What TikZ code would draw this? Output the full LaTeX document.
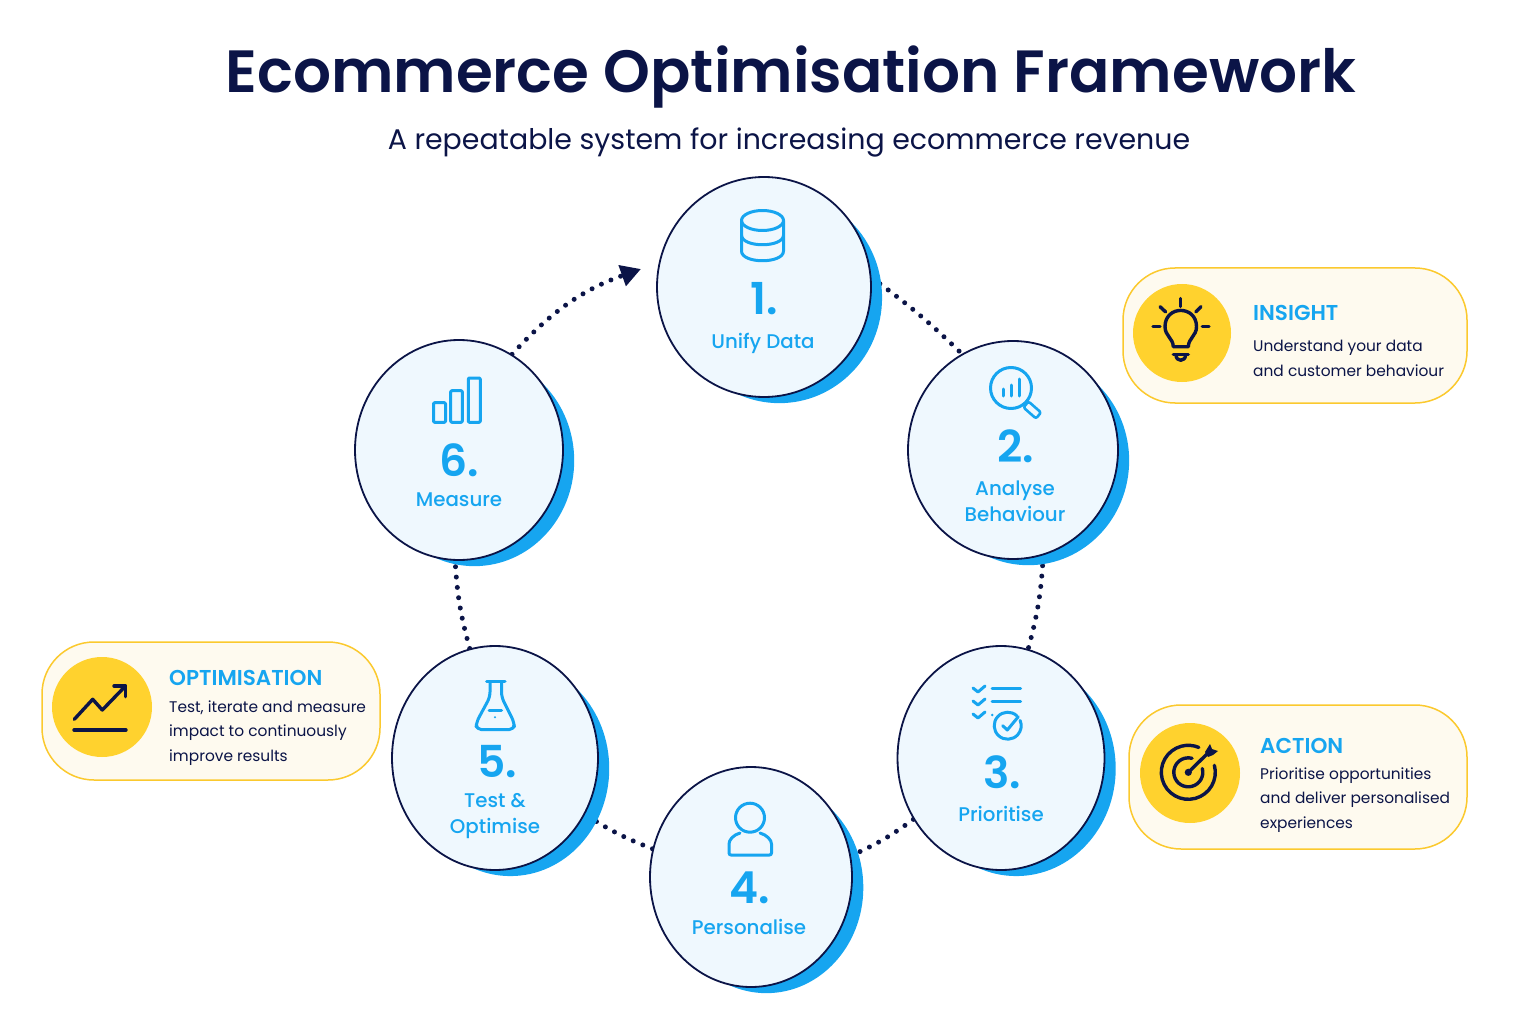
\documentclass[tikz,border=0pt]{standalone}
\usepackage{fontspec}
\setmainfont{Poppins}
\newfontfamily\semifont{Poppins SemiBold}
\newfontfamily\medfont{Poppins Medium}
\usepackage{tikz}
\usetikzlibrary{shapes.geometric, arrows.meta, positioning, backgrounds, shadows}
\definecolor{navy}{HTML}{0B1447}
\definecolor{skyblue}{HTML}{16A5F0}
\definecolor{paleblue}{HTML}{EFF8FE}
\definecolor{gold}{HTML}{FFD22E}
\definecolor{goldline}{HTML}{FBC92E}
\definecolor{cream}{HTML}{FEFAEF}
\tikzstyle{stepcirc} = [ellipse, draw=navy, line width=1.8pt, fill=paleblue, inner sep=0pt, general shadow={shadow scale=0.96, shadow xshift=16pt, shadow yshift=-11pt, fill=skyblue}]
\tikzstyle{numtext} = [anchor=base, inner sep=0pt, text=skyblue, font=\fontsize{44}{44}\semifont]
\tikzstyle{steptext} = [anchor=base, inner sep=0pt, text=skyblue, align=center, font=\fontsize{19.8}{26}\medfont]
\tikzstyle{pill} = [rectangle, rounded corners=52pt, draw=goldline, line width=1.5pt, fill=cream]
\tikzstyle{badge} = [circle, fill=gold, inner sep=0pt]
\tikzstyle{pillhead} = [anchor=base west, inner sep=0pt, text=skyblue, font=\fontsize{21.5}{21.5}\semifont]
\tikzstyle{pilltext} = [anchor=base west, inner sep=0pt, text=navy, align=left, font=\fontsize{15.4}{24.5}\selectfont]
\tikzstyle{link} = [navy, line width=5pt, line cap=round, dash pattern=on 0pt off 10.4pt]
\tikzstyle{icon} = [draw=skyblue, line width=3pt, line cap=round, line join=round]
\tikzstyle{darkicon} = [draw=navy, line width=3.4pt, line cap=round, line join=round]

\begin{document}
\begin{tikzpicture}[x=1pt, y=-1pt]
    \useasboundingbox (0,0) rectangle (1536,1024);

    % Title
    \node (title) at (791,77) [text=navy, font=\fontsize{59.6}{60}\semifont] {Ecommerce Optimisation Framework};
    \node (subtitle) at (789,142) [text=navy, font=\fontsize{28.4}{28.4}\selectfont] {A repeatable system for increasing ecommerce revenue};

    % Steps
    \node (data) at (764,287) [stepcirc, minimum width=214pt, minimum height=220pt] {};
    \node (datanum) at (data.center) [numtext, yshift=-27pt] {1.};
    \node (datatext) at (data.center) [steptext, xshift=-1pt, yshift=-61pt] {Unify Data};

    \node (behave) at (1013,450) [stepcirc, minimum width=210pt, minimum height=218pt] {};
    \node (behavenum) at (behave.center) [numtext, xshift=3pt, yshift=-12pt] {2.};
    \node (behavetext) at (behave.center) [steptext, xshift=2pt, yshift=-71pt] {Analyse\\Behaviour};

    \node (prior) at (1001,758) [stepcirc, minimum width=207pt, minimum height=224pt] {};
    \node (priornum) at (prior.center) [numtext, xshift=1pt, yshift=-30pt] {3.};
    \node (priortext) at (prior.center) [steptext, yshift=-63pt] {Prioritise};

    \node (person) at (751,877) [stepcirc, minimum width=202pt, minimum height=220pt] {};
    \node (personnum) at (person.center) [numtext, xshift=-1pt, yshift=-26pt] {4.};
    \node (persontext) at (person.center) [steptext, xshift=-2pt, yshift=-57pt] {Personalise};

    \node (testopt) at (495,758) [stepcirc, minimum width=206pt, minimum height=224pt] {};
    \node (testoptnum) at (testopt.center) [numtext, xshift=2pt, yshift=-19pt] {5.};
    \node (testopttext) at (testopt.center) [steptext, yshift=-75pt] {Test \&\\Optimise};

    \node (measure) at (459,450) [stepcirc, minimum width=208pt, minimum height=220pt] {};
    \node (measurenum) at (measure.center) [numtext, yshift=-26pt] {6.};
    \node (measuretext) at (measure.center) [steptext, yshift=-56pt] {Measure};

    % Connectors
    \coordinate (looptip) at (641,269);
    \begin{scope}[on background layer]
        \draw [link] (data.5) to [bend left=4] (behave.118);
        \draw [link] (behave.-74) to [bend left=6] (prior.76);
        \draw [link] (prior.215) to [bend left=6] (person.12);
        \draw [link] (person.164) to [bend left=6] (testopt.-32);
        \draw [link] (testopt.103) to [bend left=6] (measure.268);
        \draw [link, -{Triangle[length=20pt, width=21pt]}] (measure.61) to [bend left=14] (looptip);
    \end{scope}

    % Insight Panel
    \node (insight) at (1295,335.5) [pill, minimum width=344pt, minimum height=135pt] {};
    \node (insightbadge) at (1182,333) [badge, minimum size=98pt] {};
    \node (insighthead) at (1253,320) [pillhead] {INSIGHT};
    \node (insighttext) at (1253,376) [pilltext] {Understand your data\\and customer behaviour};

    % Action Panel
    \node (action) at (1298,777) [pill, minimum width=338pt, minimum height=144pt] {};
    \node (actionbadge) at (1190,773) [badge, minimum size=100pt] {};
    \node (actionhead) at (1260,753) [pillhead] {ACTION};
    \node (actiontext) at (1260,828) [pilltext] {Prioritise opportunities\\and deliver personalised\\experiences};

    % Optimisation Panel
    \node (optim) at (211,711) [pill, minimum width=338pt, minimum height=138pt] {};
    \node (optimbadge) at (102,707) [badge, minimum size=100pt] {};
    \node (optimhead) at (169,685) [pillhead] {OPTIMISATION};
    \node (optimtext) at (169,761) [pilltext] {Test, iterate and measure\\impact to continuously\\improve results};

    % Database Icon
    \draw [icon] (762.5,220.5) ellipse [x radius=21, y radius=10];
    \draw [icon] (741.5,220.5) -- (741.5,251) .. controls (741.5,264) and (783.5,264) .. (783.5,251) -- (783.5,220.5);
    \draw [icon] (741.5,235) .. controls (741.5,248) and (783.5,248) .. (783.5,235);

    % Magnifier Icon
    \draw [icon] (1011,388) circle [radius=20.5];
    \draw [icon] (1003,396) -- (1003,389);
    \draw [icon] (1011,396) -- (1011,385);
    \draw [icon] (1019,396) -- (1019,379);
    \draw [icon, line width=2.6pt, rounded corners=2pt] (1023.5,407.5) -- (1028.5,401.5) -- (1041,412.5) -- (1036,418.5) -- cycle;

    % Checklist Icon
    \foreach \y in {689,702,715} {
        \draw [icon] (973,\y-1) -- (978,\y+3) -- (985,\y-3);
    }
    \draw [icon] (992,688.5) -- (1020.5,688.5);
    \draw [icon] (992,701.5) -- (1020.5,701.5);
    \fill [skyblue] (992.3,715) circle [radius=1.4];
    \draw [icon] (1007.7,725.7) ++(48:13.5pt) arc [start angle=48, delta angle=335, radius=13.5pt];
    \draw [icon] (1002.7,725.7) -- (1007.3,730) -- (1018.3,716.7);

    % Person Icon
    \draw [icon] (750,817.7) circle [radius=14.5];
    \draw [icon, rounded corners=2pt] (740,833) .. controls (733,835) and (729,840) .. (729,846) -- (729,855) -- (771.5,855) -- (771.5,846) .. controls (771.5,840) and (767,835) .. (760,833);

    % Flask Icon
    \draw [icon] (486.5,681.5) -- (505,681.5);
    \draw [icon, rounded corners=5pt] (490,682) -- (490,697) -- (476.5,722) -- (476,729.5) -- (514.5,729.5) -- (514,722) -- (501.5,697) -- (501.5,682);
    \draw [icon] (489,710) -- (501.5,710);
    \fill [skyblue] (495,717.3) circle [radius=1.1];

    % Bars Icon
    \draw [icon, rounded corners=1pt] (433.5,402.7) rectangle (445.5,422.3);
    \draw [icon, rounded corners=1pt] (450.7,390.7) rectangle (462.3,422.3);
    \draw [icon, rounded corners=1pt] (468.3,378) rectangle (480.3,422.3);

    % Bulb Icon
    \draw [darkicon] (1173.3,346.7) .. controls (1173,338) and (1165,336) .. (1165,326.7) .. controls (1165,305) and (1196.5,305) .. (1196.5,326.7) .. controls (1196.5,336) and (1188.5,338) .. (1188.3,346.7) -- cycle;
    \draw [darkicon] (1173.3,354.3) -- (1188.3,354.3);
    \draw [darkicon] (1176,355) .. controls (1176,362) and (1185.5,362) .. (1185.5,355);
    \draw [darkicon] (1180.7,298.5) -- (1180.7,306.5);
    \draw [darkicon] (1160,306.7) -- (1165.7,312);
    \draw [darkicon] (1201,306.7) -- (1195.7,312);
    \draw [darkicon] (1153,326.7) -- (1160,326.7);
    \draw [darkicon] (1202.3,326.7) -- (1209,326.7);

    % Target Icon
    \draw [darkicon] (1188.3,772.3) ++(15:27pt) arc [start angle=15, delta angle=-308, radius=27pt];
    \draw [darkicon] (1188.3,772.3) ++(15:14.5pt) arc [start angle=15, delta angle=-300, radius=14.5pt];
    \fill [navy] (1188.3,772.3) circle [radius=3.6];
    \draw [darkicon] (1188.3,772.3) -- (1208,753);
    \fill [navy] (1205,752) -- (1210,744) -- (1212,749) -- (1218,751) -- (1213,755) -- (1208,757) -- cycle;

    % Chart Icon
    \draw [darkicon] (74.3,719.3) -- (92.7,699.3) -- (102.3,710) -- (125,686.5);
    \draw [darkicon] (114,686) -- (125.7,686) -- (125.7,696.7);
    \draw [darkicon] (74,730) -- (126,730);
\end{tikzpicture}
\end{document}
